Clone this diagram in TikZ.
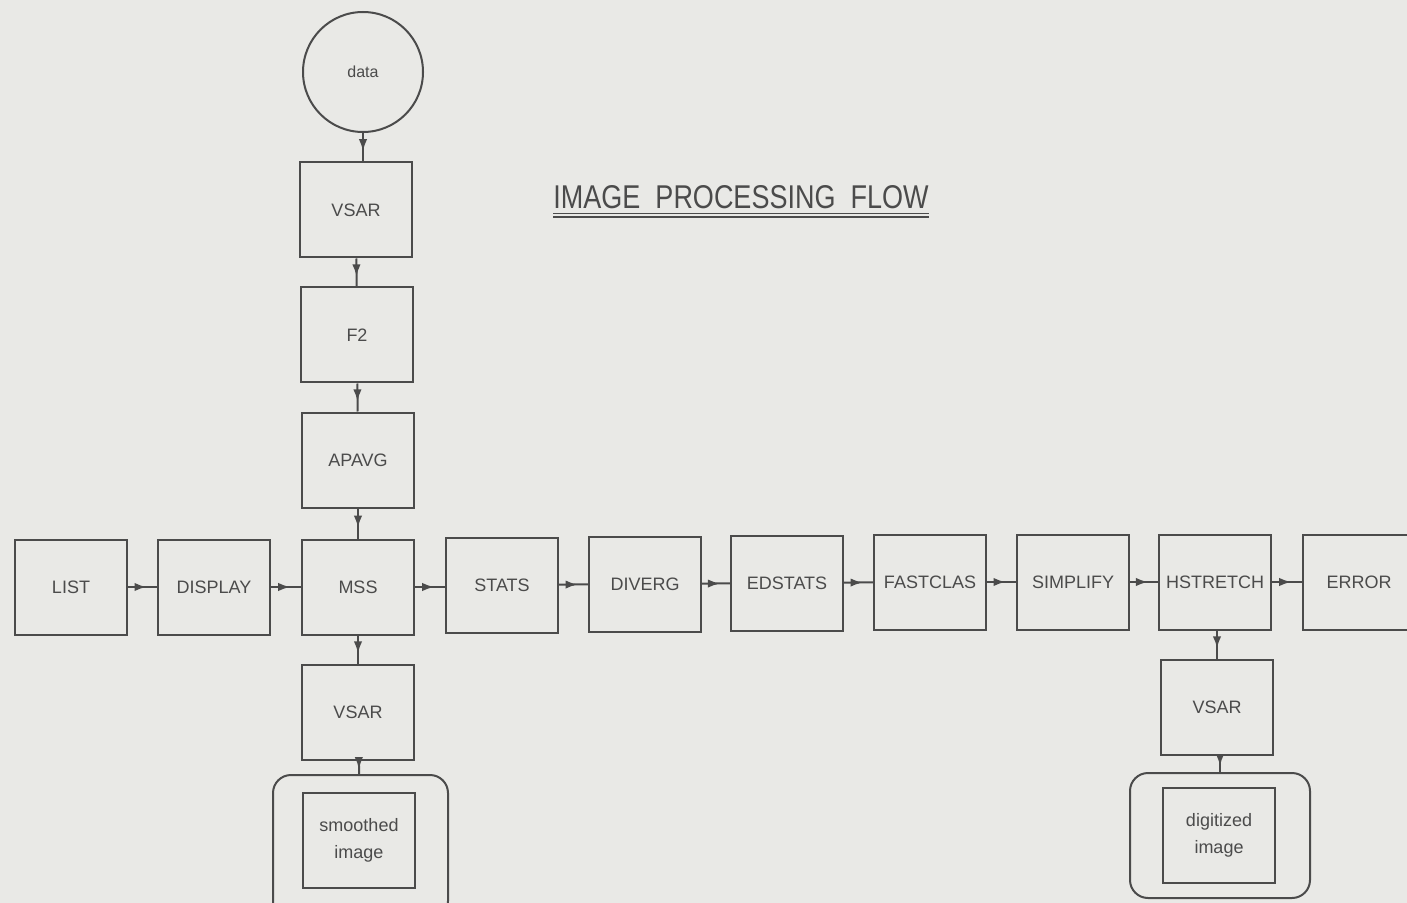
\documentclass[tikz,border=0pt]{standalone}
\usepackage{fontspec}
\setmainfont{Liberation Sans}
\usetikzlibrary{decorations.markings,arrows.meta}
\definecolor{paper}{RGB}{233,233,230}
\definecolor{ink}{RGB}{75,75,75}
\begin{document}
\begin{tikzpicture}[x=0.5pt,y=-0.5pt,
  every node/.style={text=ink},
  procbox/.style={draw=ink,line width=1pt,minimum width=56pt,minimum height=47.5pt,inner sep=0pt,font=\fontsize{9}{10}\selectfont},
  imgbox/.style={procbox,font=\fontsize{9}{13.5}\selectfont,align=center},
  wrapbox/.style={draw=ink,line width=1pt,rounded corners=9pt,inner sep=0pt},
  flow/.style={draw=ink,line width=1pt,postaction={decorate},decoration={markings,mark=at position 0.64 with {\arrow{Latex[length=6pt,width=4.2pt]}}}}]
\useasboundingbox (0,0) rectangle (1407,903);
\fill[paper] (0,0) rectangle (1407,903);
\begin{scope}
\clip (0,0) rectangle (1407,903);
% title
\node[anchor=base,font=\fontsize{13.5}{15}\selectfont,inner sep=0pt] (title) at (741,209) {\scalebox{1}[1.22]{IMAGE\ \ PROCESSING\ \ FLOW}};
\draw[ink,line width=0.8pt] (553,213.5) -- (929,213.5);
\draw[ink,line width=0.8pt] (553,217) -- (929,217);
% nodes
\node[circle,draw=ink,line width=1pt,minimum size=60pt,inner sep=0pt,font=\fontsize{8}{9}\selectfont] (data) at (363,72) {data};
\node[procbox] (vsarA) at (356,210) {VSAR};
\node[procbox] (ftwo) at (357,335) {F2};
\node[procbox] (apavg) at (358,460) {APAVG};
\node[procbox] (mss) at (358,587) {MSS};
\node[procbox] (vsarB) at (358,712) {VSAR};
\node[procbox] (list) at (71,587) {LIST};
\node[procbox] (display) at (214,587) {DISPLAY};
\node[procbox] (stats) at (502,585) {STATS};
\node[procbox] (diverg) at (645,584) {DIVERG};
\node[procbox] (edstats) at (787,583) {EDSTATS};
\node[procbox] (fastclas) at (930,582) {FASTCLAS};
\node[procbox] (simplify) at (1073,582) {SIMPLIFY};
\node[procbox] (hstretch) at (1215,582) {HSTRETCH};
\node[procbox] (error) at (1359,582) {ERROR};
\node[procbox] (vsarC) at (1217,707) {VSAR};
\node[wrapbox,minimum width=87.5pt,minimum height=72pt] (smoothwrap) at (360.5,847) {};
\node[imgbox] (smoothed) at (359,840) {smoothed\\image};
\node[wrapbox,minimum width=90pt,minimum height=62.5pt] (digitwrap) at (1220,835.5) {};
\node[imgbox] (digitized) at (1219,835) {digitized\\image};
% connectors
\draw[flow] (data.south) -- (data.south |- vsarA.north);
\draw[flow] (vsarA) -- (ftwo);
\draw[flow] (ftwo) -- (apavg);
\draw[flow] (apavg) -- (mss);
\draw[flow] (mss) -- (vsarB);
\draw[flow] (vsarB) -- (smoothwrap);
\draw[flow] (list) -- (display);
\draw[flow] (display) -- (mss);
\draw[flow] (mss.east) -- (stats.west |- mss.east);
\draw[flow] (stats) -- (diverg);
\draw[flow] (diverg) -- (edstats);
\draw[flow] (edstats) -- (fastclas);
\draw[flow] (fastclas) -- (simplify);
\draw[flow] (simplify) -- (hstretch);
\draw[flow] (hstretch) -- (error);
\draw[flow] (hstretch.south -| vsarC) -- (vsarC);
\draw[flow] (vsarC.south -| digitwrap.north) -- (digitwrap.north);
\end{scope}
\end{tikzpicture}
\end{document}
